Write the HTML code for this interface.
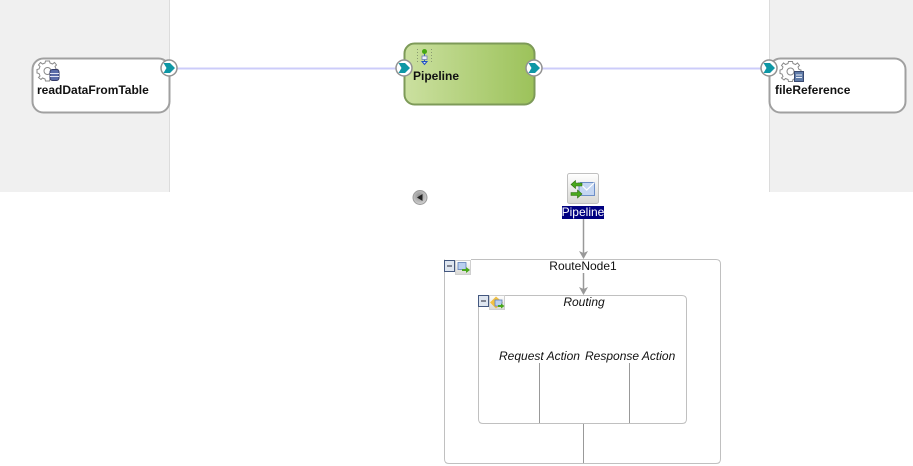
<!DOCTYPE html>
<html>
<head>
<meta charset="utf-8">
<style>
html,body{margin:0;padding:0;background:#fff;}
svg{display:block;}
text{font-family:"Liberation Sans",sans-serif;}
</style>
</head>
<body>
<svg width="913" height="466" viewBox="0 0 913 466" xmlns="http://www.w3.org/2000/svg">
<defs>
<linearGradient id="g" x1="0" y1="0" x2="1" y2="0">
<stop offset="0" stop-color="#cbe0a0"/>
<stop offset="1" stop-color="#9cc25a"/>
</linearGradient>
<linearGradient id="btn" x1="0" y1="0" x2="0" y2="1">
<stop offset="0" stop-color="#ffffff"/>
<stop offset="1" stop-color="#d8d8d4"/>
</linearGradient>
<radialGradient id="ball" cx="0.45" cy="0.4" r="0.6">
<stop offset="0" stop-color="#8f8f8f"/>
<stop offset="1" stop-color="#d2d2d2"/>
</radialGradient>
<g id="port">
<circle cx="0" cy="0" r="8" fill="#fff" stroke="#929292" stroke-width="1.500"/>
<path d="M-5.500,-5 L1,-5 L6,0 L1,5 L-5.500,5 L-2.500,0 Z" fill="#0e97a5"/>
</g>
<g id="gear" fill="#fff" stroke="#8a8a8a" stroke-width="1">
<path d="M-3,-9 L1,-9 L1.500,-7 L4,-6 L6,-7.500 L8,-5 L6.500,-3.500 L7.500,-1 L9.500,-0.500 L9.500,3 L7.500,3.500 L6.500,6 L8,7.500 L5.500,9.500 L4,8 L1.500,9 L1,11 L-3,11 L-3.500,9 L-6,8 L-7.500,9.500 L-10,7.500 L-8.500,6 L-9.500,3.500 L-11.500,3 L-11.500,-0.500 L-9.500,-1 L-8.500,-3.500 L-10,-5 L-8,-7.500 L-6,-6 L-3.500,-7 Z"/>
<circle cx="-1" cy="1" r="3.500"/>
</g>
</defs>

<!-- swimlane backgrounds -->
<rect x="0" y="0" width="169.500" height="192" fill="#f0f0f0"/>
<rect x="769" y="0" width="144" height="192" fill="#f0f0f0"/>
<line x1="169.500" y1="0" x2="169.500" y2="192" stroke="#dcdcdc"/>
<line x1="769.500" y1="0" x2="769.500" y2="192" stroke="#dcdcdc"/>

<!-- wires -->
<line x1="177" y1="68.500" x2="396" y2="68.500" stroke="#ccccfa" stroke-width="2"/>
<line x1="542" y1="68.500" x2="762" y2="68.500" stroke="#ccccfa" stroke-width="2"/>

<!-- readDataFromTable -->
<rect x="32.500" y="58.500" width="137" height="54" rx="11" fill="#fff" stroke="#a0a0a0" stroke-width="2"/>
<use href="#gear" x="48.500" y="70"/>
<rect x="50" y="69.500" width="9" height="11" rx="2.500" fill="#5a6ba8" stroke="#333a66" stroke-width="1"/>
<line x1="50" y1="73.500" x2="59" y2="73.500" stroke="#dfe3f2"/>
<line x1="50" y1="76.500" x2="59" y2="76.500" stroke="#dfe3f2"/>
<text x="37" y="94" font-size="12" font-weight="bold" fill="#111">readDataFromTable</text>
<use href="#port" x="169" y="68"/>

<!-- Pipeline component -->
<rect x="404.500" y="43.500" width="130" height="61" rx="10" fill="url(#g)" stroke="#7d9a58" stroke-width="2"/>
<line x1="417.500" y1="49" x2="417.500" y2="64" stroke="#8a9a70" stroke-dasharray="1 2"/>
<line x1="431.500" y1="49" x2="431.500" y2="64" stroke="#8a9a70" stroke-dasharray="1 2"/>
<line x1="424.500" y1="52" x2="424.500" y2="64" stroke="#3060c0"/>
<circle cx="424.500" cy="51.500" r="2.500" fill="#45a812"/>
<rect x="422" y="56" width="5" height="3.500" fill="#eef" stroke="#7080b0" stroke-width="0.800"/>
<path d="M422,61.500 L427,61.500 L424.500,64.500 Z" fill="#cfe0ff" stroke="#2050c0"/>
<text x="413" y="80" font-size="12" font-weight="bold" fill="#111">Pipeline</text>
<use href="#port" x="404" y="68"/>
<use href="#port" x="534" y="68"/>

<!-- fileReference -->
<rect x="769.500" y="58.500" width="136" height="54" rx="11" fill="#fff" stroke="#a0a0a0" stroke-width="2"/>
<use href="#gear" x="791.500" y="70.500"/>
<rect x="794.500" y="71.500" width="9" height="10" fill="#5f7ba8" stroke="#3a4a70" stroke-width="1"/>
<line x1="796" y1="75" x2="802" y2="75" stroke="#e8ecf5"/>
<line x1="796" y1="77.500" x2="802" y2="77.500" stroke="#e8ecf5"/>
<text x="775" y="94" font-size="12" font-weight="bold" fill="#111">fileReference</text>
<use href="#port" x="769" y="68"/>

<!-- collapse ball -->
<circle cx="420" cy="197.500" r="7" fill="url(#ball)" stroke="#9a9a9a"/>
<path d="M422.500,194 L417,197.500 L422.500,201 Z" fill="#222"/>

<!-- Pipeline start node -->
<rect x="567.500" y="173.500" width="31" height="30" rx="2" fill="url(#btn)" stroke="#c0c0c0"/>
<path d="M579,182.500 H594.500 V195.500 H579 Z" fill="#c4d6f2" stroke="#6d8fc8" stroke-width="1"/>
<path d="M579,182.500 L586.700,190 L594.500,182.500" fill="none" stroke="#fff" stroke-width="1.200"/>
<path d="M571,184.500 L575.500,180.500 V183 H582 V186 H575.500 V188.500 Z" fill="#49a81c" stroke="#2f6e10" stroke-width="0.600"/>
<path d="M582,194 L577.500,190 V192.500 H571 V195.500 H577.500 V198 Z" fill="#49a81c" stroke="#2f6e10" stroke-width="0.600"/>
<rect x="562" y="206" width="42" height="13" fill="#000080"/>
<text x="583" y="216" font-size="12" fill="#fff" text-anchor="middle">Pipeline</text>

<!-- RouteNode1 -->
<path d="M471,259.500 H716 Q720.500,259.500 720.500,264 V459 Q720.500,463.500 716,463.500 H449 Q444.500,463.500 444.500,459 V259.500" fill="#fff" stroke="#c0c0c0"/>
<rect x="444.500" y="260.500" width="10" height="11" fill="#dfe6f0" stroke="#44587f"/>
<line x1="447" y1="266" x2="452" y2="266" stroke="#223"/>
<rect x="455.500" y="260.500" width="15" height="14" fill="url(#btn)" stroke="#cfcfcf"/>
<rect x="458" y="262.500" width="8" height="7" fill="#b9cff0" stroke="#5f7fb8" stroke-width="0.800"/>
<path d="M462,269 H466 V267 L470,270 L466,273 V271 H462 Z" fill="#49a81c"/>
<text x="583" y="270" font-size="12" fill="#111" text-anchor="middle">RouteNode1</text>

<!-- arrows -->
<line x1="583.500" y1="219" x2="583.500" y2="253" stroke="#999" stroke-width="1.500"/>
<path d="M579,251 L583.500,253 L588,251 L583.500,259 Z" fill="#999"/>
<line x1="583.500" y1="273" x2="583.500" y2="289" stroke="#999" stroke-width="1.500"/>
<path d="M579,287 L583.500,289 L588,287 L583.500,295 Z" fill="#999"/>

<!-- Routing -->
<path d="M505,295.500 H682 Q686.500,295.500 686.500,300 V419 Q686.500,423.500 682,423.500 H483 Q478.500,423.500 478.500,419 V295.500" fill="#fff" stroke="#c0c0c0"/>
<rect x="478.500" y="295.500" width="10" height="11" fill="#dfe6f0" stroke="#44587f"/>
<line x1="481" y1="301" x2="486" y2="301" stroke="#223"/>
<rect x="489.500" y="295.500" width="15" height="14" fill="url(#btn)" stroke="#cfcfcf"/>
<path d="M496,296.500 L503,302.500 L496,308.500 L490,302.500 Z" fill="#f2c040"/>
<rect x="495" y="300" width="7" height="6" fill="#b9cff0" stroke="#5f7fb8" stroke-width="0.800"/>
<path d="M498,305 H501 V303.500 L504.500,306 L501,308.500 V307 H498 Z" fill="#49a81c"/>
<text x="584" y="306" font-size="12" font-style="italic" fill="#111" text-anchor="middle">Routing</text>

<text x="499" y="360" font-size="12" font-style="italic" fill="#111">Request Action</text>
<text x="585" y="360" font-size="12" font-style="italic" fill="#111">Response Action</text>

<line x1="539.500" y1="363" x2="539.500" y2="423" stroke="#999"/>
<line x1="629.500" y1="363" x2="629.500" y2="423" stroke="#999"/>
<line x1="583.500" y1="424" x2="583.500" y2="463" stroke="#999"/>
</svg>
</body>
</html>
